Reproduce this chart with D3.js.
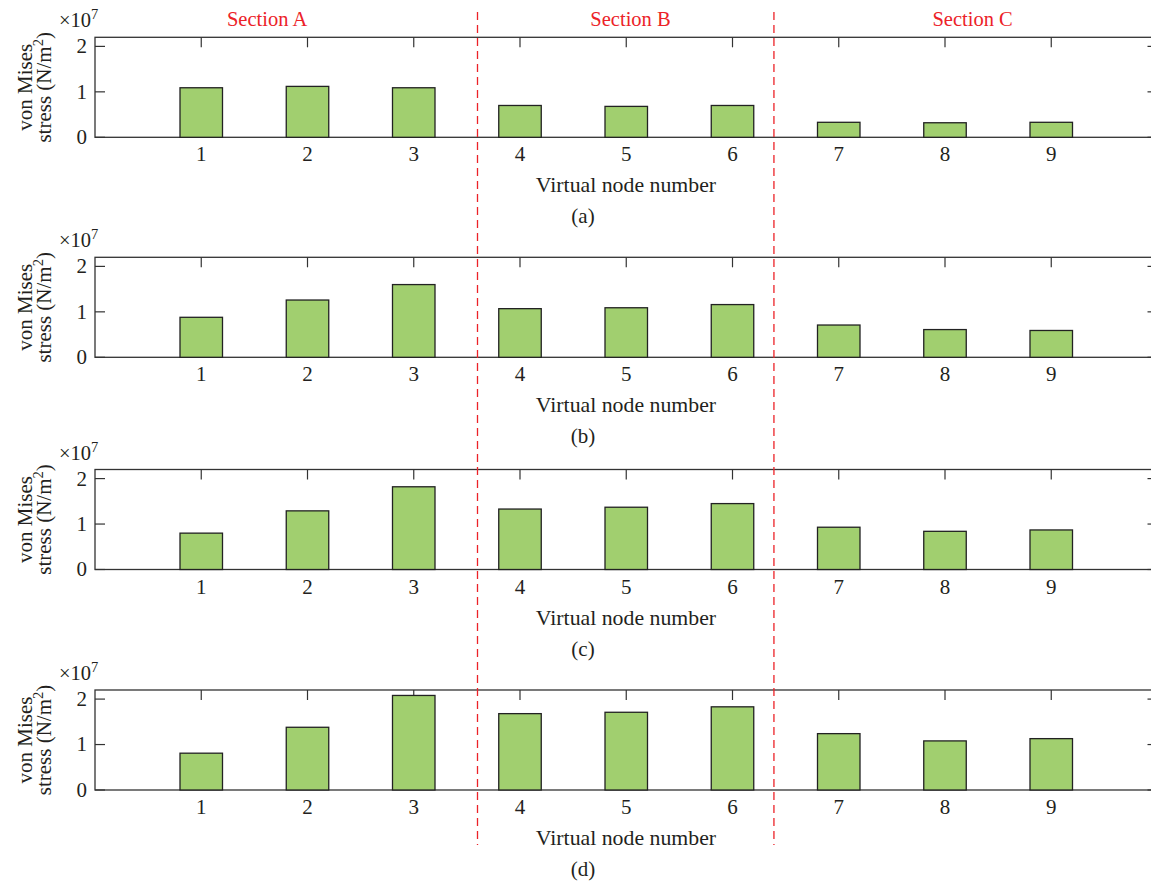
<!DOCTYPE html>
<html>
<head>
<meta charset="utf-8">
<script src="https://cdn.jsdelivr.net/npm/d3@7"></script>
<style>
  html, body { margin: 0; padding: 0; background: #fff; }
  svg { display: block; }
  text { font-family: "Liberation Serif", "Times New Roman", serif; fill: #231f20; }
</style>
</head>
<body>
<svg id="chart" width="1151" height="883"></svg>
<script>
// ---- data ----
const nodes = [1, 2, 3, 4, 5, 6, 7, 8, 9];
const panelLabels = ["(a)", "(b)", "(c)", "(d)"];
const stressA = [1.09, 1.12, 1.09, 0.70, 0.68, 0.70, 0.33, 0.32, 0.33];
const stressB = [0.88, 1.26, 1.60, 1.07, 1.09, 1.16, 0.71, 0.61, 0.59];
const stressC = [0.80, 1.29, 1.82, 1.33, 1.37, 1.45, 0.93, 0.84, 0.87];
const stressD = [0.81, 1.38, 2.08, 1.68, 1.71, 1.83, 1.24, 1.08, 1.13];
const yTicks = [0, 1, 2];
const sectionNames = ["Section A", "Section B", "Section C"];
const sectionCenters = [1.62, 5.04, 8.26];
const sectionBoundaries = [3.6, 6.39];
const xTitle = "Virtual node number";
const series = [stressA, stressB, stressC, stressD];

// ---- layout ----
const svg = d3.select("#chart");
const panelTops = [37.3, 257.3, 469.5, 690];
const panelH = 100;
const x = d3.scaleLinear().domain([0, 10]).range([95, 1157.5]);
const barW = (x(1) - x(0)) * 0.4;
const axisColor = "#333";
const red = "#ec2228";

series.forEach((vals, i) => {
  const top = panelTops[i];
  const y = d3.scaleLinear().domain([0, 2.2]).range([top + panelH, top]);
  const g = svg.append("g");

  // frame
  g.append("rect").attr("x", x(0)).attr("y", top).attr("width", x(10) - x(0)).attr("height", panelH)
    .attr("fill", "none").attr("stroke", axisColor).attr("stroke-width", 1.3);

  // x ticks (top and bottom, inward)
  nodes.forEach(n => {
    g.append("line").attr("x1", x(n)).attr("x2", x(n)).attr("y1", top).attr("y2", top + 10)
      .attr("stroke", axisColor).attr("stroke-width", 1.2);
    g.append("line").attr("x1", x(n)).attr("x2", x(n)).attr("y1", top + panelH).attr("y2", top + panelH - 10)
      .attr("stroke", axisColor).attr("stroke-width", 1.2);
  });
  // y ticks (left and right, inward)
  yTicks.forEach(t => {
    g.append("line").attr("x1", x(0)).attr("x2", x(0) + 10).attr("y1", y(t)).attr("y2", y(t))
      .attr("stroke", axisColor).attr("stroke-width", 1.2);
    g.append("line").attr("x1", x(10)).attr("x2", x(10) - 10).attr("y1", y(t)).attr("y2", y(t))
      .attr("stroke", axisColor).attr("stroke-width", 1.2);
    g.append("text").attr("x", 87).attr("y", y(t)).attr("dy", "0.33em")
      .attr("text-anchor", "end").attr("font-size", 21).text(t);
  });

  // bars
  g.selectAll("rect.bar").data(vals).join("rect").attr("class", "bar")
    .attr("x", (d, j) => x(nodes[j]) - barW / 2)
    .attr("width", barW)
    .attr("y", d => y(d))
    .attr("height", d => y(0) - y(d))
    .attr("fill", "#a1cf6f").attr("stroke", "#222").attr("stroke-width", 1.3);

  // x tick labels
  nodes.forEach(n => {
    g.append("text").attr("x", x(n)).attr("y", top + panelH + 24)
      .attr("text-anchor", "middle").attr("font-size", 21).text(n);
  });

  // x title and caption
  g.append("text").attr("x", 626).attr("y", top + panelH + 55)
    .attr("text-anchor", "middle").attr("font-size", 21.8).text(xTitle);
  g.append("text").attr("x", 583).attr("y", top + panelH + 86)
    .attr("text-anchor", "middle").attr("font-size", 21).text(panelLabels[i]);

  // exponent label
  const ex = g.append("text").attr("x", 59).attr("y", top - 10).attr("font-size", 20.5);
  ex.append("tspan").text("×10");
  ex.append("tspan").attr("font-size", 14.5).attr("dy", -8).text("7");

  // y axis title (two lines)
  const cy = top + panelH / 2;
  g.append("text").attr("transform", `translate(32,${cy}) rotate(-90)`)
    .attr("text-anchor", "middle").attr("font-size", 21).text("von Mises");
  const t2 = g.append("text").attr("transform", `translate(51,${cy}) rotate(-90)`)
    .attr("text-anchor", "middle").attr("font-size", 21);
  t2.append("tspan").text("stress (N/m");
  t2.append("tspan").attr("font-size", 14.5).attr("dy", -8).text("2");
  t2.append("tspan").attr("dy", 8).text(")");
});

// section boundaries
sectionBoundaries.forEach(b => {
  svg.append("line").attr("x1", x(b)).attr("x2", x(b)).attr("y1", 12).attr("y2", 845)
    .attr("stroke", red).attr("stroke-width", 1.3).attr("stroke-dasharray", "8,5");
});
sectionNames.forEach((s, i) => {
  svg.append("text").attr("x", x(sectionCenters[i])).attr("y", 26)
    .attr("text-anchor", "middle").attr("font-size", 20.5).style("fill", red).text(s);
});
</script>
</body>
</html>
